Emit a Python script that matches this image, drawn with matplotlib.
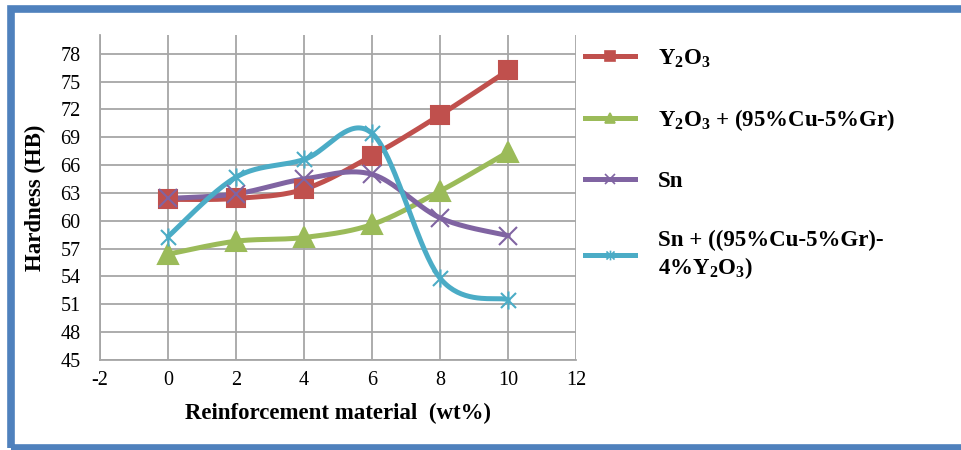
import numpy as np
import matplotlib.pyplot as plt
from matplotlib.path import Path
from matplotlib.patches import Rectangle
from matplotlib.lines import Line2D

plt.rcParams['font.family'] = ['Liberation Serif', 'DejaVu Serif']
plt.rcParams['mathtext.fontset'] = 'custom'
plt.rcParams['mathtext.rm'] = 'Liberation Serif'
plt.rcParams['mathtext.bf'] = 'Liberation Serif:bold'
plt.rcParams['axes.unicode_minus'] = False

wt = [0, 2, 4, 6, 8, 10]
y2o3 = [62.3, 62.4, 63.4, 67.0, 71.4, 76.2]
y2o3_cugr = [56.4, 57.8, 58.2, 59.6, 63.2, 67.4]
sn = [62.4, 62.9, 64.5, 65.0, 60.3, 58.4]
sn_mix = [58.3, 64.7, 66.6, 69.4, 53.8, 51.5]

labels = [r'$\mathbf{Y_2O_3}$',
          r'$\mathbf{Y_2O_3}$ + (95%Cu-5%Gr)',
          'Sn',
          'Sn + ((95%Cu-5%Gr)-\n4%$\\mathbf{Y_2O_3}$)']
colors = ['#C0504D', '#9BBB59', '#8064A2', '#4BACC6']

# excel-style star marker: an X with a vertical bar through it
star = Path([(-1, -1), (1, 1), (-1, 1), (1, -1), (0, -1.2), (0, 1.2)],
            [Path.MOVETO, Path.LINETO, Path.MOVETO, Path.LINETO, Path.MOVETO, Path.LINETO])
markers = ['s', '^', 'x', star]
msizes = [13.5, 14, 13, 13]


def smooth(x, y, n=40):
    # catmull-rom style bezier through the points, like excel's smoothed line
    x = np.asarray(x, float)
    y = np.asarray(y, float)
    px = np.concatenate([[x[0]], x, [x[-1]]])
    py = np.concatenate([[y[0]], y, [y[-1]]])
    xs, ys = [], []
    t = np.linspace(0, 1, n)
    for i in range(1, len(px) - 2):
        p0 = np.array([px[i], py[i]])
        p3 = np.array([px[i + 1], py[i + 1]])
        p1 = p0 + (p3 - np.array([px[i - 1], py[i - 1]])) / 6
        p2 = p3 - (np.array([px[i + 2], py[i + 2]]) - p0) / 6
        pts = ((1 - t) ** 3)[:, None] * p0 + (3 * (1 - t) ** 2 * t)[:, None] * p1 \
            + (3 * (1 - t) * t ** 2)[:, None] * p2 + (t ** 3)[:, None] * p3
        xs.extend(pts[:, 0])
        ys.extend(pts[:, 1])
    return np.array(xs), np.array(ys)


fig = plt.figure(figsize=(9.62, 4.5), dpi=100)
ax = fig.add_axes([0.104, 0.2, 0.495, 0.722])

handles = []
for ys, c, m, ms, lab in zip([y2o3, y2o3_cugr, sn, sn_mix], colors, markers, msizes, labels):
    sx, sy = smooth(wt, ys)
    ax.plot(sx, sy, color=c, lw=3.6, solid_capstyle='round', zorder=3)
    ax.plot(wt, ys, ls='none', marker=m, ms=ms, color=c, mec=c, mew=1.5, zorder=4)
    handles.append(Line2D([], [], color=c, lw=3.6, marker=m, ms=7, mec=c, mew=1.2, label=lab))

ax.set_xlim(-2, 12)
ax.set_ylim(45, 80)
ax.set_xticks(range(-2, 13, 2))
ax.set_yticks(range(45, 79, 3))
ax.grid(True, color='#A6A6A6', lw=1.3)
ax.set_axisbelow(True)
for s in ['top', 'right']:
    ax.spines[s].set_visible(False)
for s in ['left', 'bottom']:
    ax.spines[s].set_color('#A6A6A6')
    ax.spines[s].set_linewidth(1.3)
ax.tick_params(length=0, labelsize=14.5)
ax.tick_params(axis='y', pad=14)
ax.tick_params(axis='x', pad=8)
ax.set_xlabel('Reinforcement material  (wt%)', fontsize=16.5, fontweight='bold', labelpad=9)
ax.set_ylabel('Hardness (HB)', fontsize=16.5, fontweight='bold', labelpad=10)

fig.legend(handles=handles, loc='upper left', bbox_to_anchor=(0.608, 0.895),
           frameon=False, prop={'size': 16.5, 'weight': 'bold'}, borderpad=0, borderaxespad=0,
           handlelength=2.2, handletextpad=1.0, labelspacing=1.65)

# blue frame around the chart
fig.patches.append(Rectangle((10.5 / 962, 2.5 / 450), 1.2, 438.5 / 450, transform=fig.transFigure,
                             fill=False, edgecolor='#4F81BD', lw=5.5, zorder=10))

fig.savefig('out.png', dpi=100)
